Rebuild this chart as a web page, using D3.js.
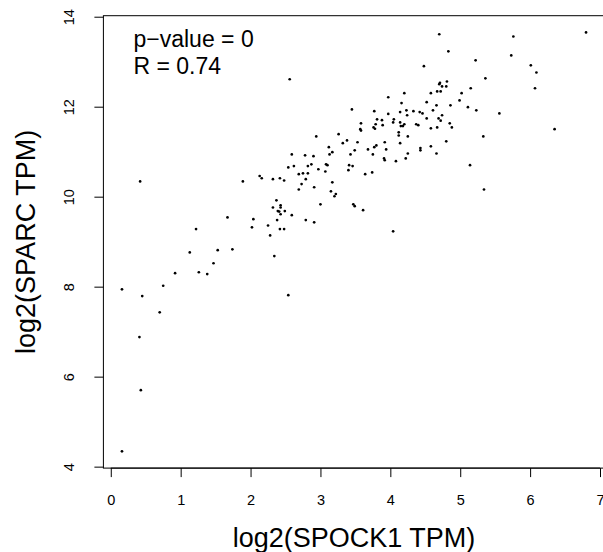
<!DOCTYPE html>
<html>
<head>
<meta charset="utf-8">
<script src="https://cdn.jsdelivr.net/npm/d3@7"></script>
<style>
  html, body { margin: 0; padding: 0; background: #fff; }
  svg { display: block; font-family: "Liberation Sans", Arial, Helvetica, sans-serif; }
</style>
</head>
<body>
<svg id="chart" width="603" height="552"></svg>
<script>
// log2(SPOCK1 TPM)
const spock1 = [
  0.16,0.16,0.41,0.43,0.42,0.45,0.70,0.75,0.92,1.13,1.22,1.26,1.38,1.47,1.53,1.67,1.74,1.89,2.02,2.04,
  2.13,2.16,2.25,2.28,2.32,2.32,2.34,2.37,2.38,2.39,2.41,2.42,2.42,2.43,2.43,2.43,2.48,2.48,2.49,2.54,
  2.54,2.56,2.59,2.59,2.62,2.69,2.69,2.73,2.75,2.78,2.79,2.79,2.82,2.82,2.87,2.90,2.91,2.91,2.94,2.97,
  3.00,3.07,3.08,3.10,3.12,3.13,3.15,3.17,3.17,3.20,3.22,3.26,3.32,3.38,3.40,3.41,3.43,3.45,3.46,3.47,
  3.49,3.49,3.53,3.58,3.57,3.58,3.61,3.64,3.68,3.74,3.75,3.76,3.77,3.77,3.78,3.79,3.80,3.81,3.88,3.89,
  3.91,3.92,3.92,3.94,3.97,3.97,4.04,4.04,4.05,4.08,4.12,4.12,4.14,4.14,4.14,4.15,4.16,4.18,4.20,4.20,
  4.22,4.23,4.24,4.25,4.25,4.33,4.37,4.40,4.42,4.43,4.43,4.46,4.48,4.52,4.52,4.58,4.58,4.58,4.61,4.66,
  4.66,4.67,4.67,4.69,4.70,4.70,4.71,4.72,4.72,4.74,4.74,4.80,4.80,4.81,4.83,4.85,4.86,4.88,4.99,5.02,
  5.11,5.14,5.15,5.22,5.23,5.33,5.34,5.36,5.56,5.73,5.76,6.01,6.07,6.09,6.35,6.80
];
// log2(SPARC TPM)
const sparc = [
  4.34,7.94,6.88,5.70,10.34,7.79,7.43,8.02,8.30,8.76,9.28,8.32,8.28,8.52,8.81,9.54,8.83,10.34,9.32,9.50,
  10.46,10.41,9.36,9.14,9.76,10.39,8.68,9.92,9.48,9.68,9.67,9.28,10.41,9.81,9.76,9.61,9.28,10.36,9.68,7.81,
  10.65,12.61,9.59,10.94,10.68,10.16,10.50,10.28,10.52,10.92,10.39,9.48,10.52,10.68,10.72,10.90,10.21,9.43,11.34,10.61,
  9.83,10.56,10.72,10.70,11.10,10.94,10.12,10.99,10.32,10.01,10.06,11.39,11.19,11.25,10.59,10.70,10.94,11.94,10.68,9.83,
  11.03,9.79,11.21,11.63,11.50,11.47,9.70,10.50,11.05,10.54,10.94,11.54,11.90,11.10,11.51,11.61,11.14,11.72,11.70,11.59,
  10.85,10.81,11.21,11.05,11.84,12.21,11.65,9.23,11.72,10.79,11.43,11.36,11.65,11.19,11.88,11.57,12.08,11.57,12.30,11.61,
  10.85,11.92,11.81,10.96,11.34,11.90,11.61,11.59,11.88,11.08,11.03,11.85,12.90,12.10,11.74,11.52,11.12,12.30,11.92,10.96,
  12.03,12.34,11.54,11.74,13.61,12.50,12.53,12.34,11.69,12.45,11.81,12.45,11.23,12.56,13.23,11.63,12.03,11.54,12.14,12.30,
  11.99,10.70,12.41,13.03,11.92,11.34,10.16,12.63,11.85,13.14,13.56,12.92,12.41,12.76,11.50,13.65
];
const xTicks = [0, 1, 2, 3, 4, 5, 6, 7];
const yTicks = [4, 6, 8, 10, 12, 14];
const xLabel = "log2(SPOCK1 TPM)";
const yLabel = "log2(SPARC TPM)";
const statLines = ["p\u2212value = 0", "R = 0.74"];

const svg = d3.select("#chart");
const plot = { left: 103.4, right: 604.6, top: 15.7, bottom: 468.1 };

// R-style 4% padded ranges
function padded(arr) {
  const [lo, hi] = d3.extent(arr);
  const p = (hi - lo) * 0.04;
  return [lo - p, hi + p];
}
const x = d3.scaleLinear().domain(padded(spock1)).range([plot.left, plot.right]);
const y = d3.scaleLinear().domain(padded(sparc)).range([plot.bottom, plot.top]);

// box
svg.append("rect")
  .attr("x", plot.left).attr("y", plot.top)
  .attr("width", plot.right - plot.left).attr("height", plot.bottom - plot.top)
  .attr("fill", "none").attr("stroke", "#000").attr("stroke-width", 1);

// x axis
const gx = svg.append("g")
  .attr("transform", `translate(0,${plot.bottom})`)
  .call(d3.axisBottom(x).tickValues(xTicks).tickFormat(d3.format("d")).tickSize(9).tickSizeOuter(0));
gx.select(".domain").remove();
gx.append("line").attr("x1", x(xTicks[0])).attr("x2", x(xTicks[xTicks.length - 1]))
  .attr("stroke", "#000");
gx.selectAll(".tick line").attr("stroke", "#000");
gx.selectAll(".tick text")
  .attr("y", 37).attr("dy", null)
  .attr("fill", "#000")
  .style("font-size", "14.5px")
  .style("font-family", "'Liberation Sans', Arial, sans-serif");

// y axis
const gy = svg.append("g")
  .attr("transform", `translate(${plot.left},0)`)
  .call(d3.axisLeft(y).tickValues(yTicks).tickFormat(d3.format("d")).tickSize(9).tickSizeOuter(0));
gy.select(".domain").remove();
gy.selectAll(".tick line").attr("stroke", "#000");
gy.selectAll(".tick text")
  .attr("x", null).attr("dy", null)
  .attr("text-anchor", "middle")
  .attr("transform", `translate(${74 - plot.left},0) rotate(-90)`)
  .attr("fill", "#000")
  .style("font-size", "14.5px")
  .style("font-family", "'Liberation Sans', Arial, sans-serif");

// axis titles
svg.append("text")
  .attr("x", (plot.left + plot.right) / 2).attr("y", 547)
  .attr("text-anchor", "middle")
  .style("font-size", "27px")
  .text(xLabel);
svg.append("text")
  .attr("transform", `translate(35,${(plot.top + plot.bottom) / 2}) rotate(-90)`)
  .attr("text-anchor", "middle")
  .style("font-size", "27px")
  .text(yLabel);

// stats annotation
svg.append("g").selectAll("text").data(statLines).join("text")
  .attr("x", 133.5)
  .attr("y", (d, i) => 46.7 + i * 27.6)
  .style("font-size", "23px")
  .text(d => d);

// points
svg.append("g").selectAll("circle").data(spock1.map((v, i) => [v, sparc[i]])).join("circle")
  .attr("cx", d => x(d[0])).attr("cy", d => y(d[1]))
  .attr("r", 1.35).attr("fill", "#000");
</script>
</body>
</html>
